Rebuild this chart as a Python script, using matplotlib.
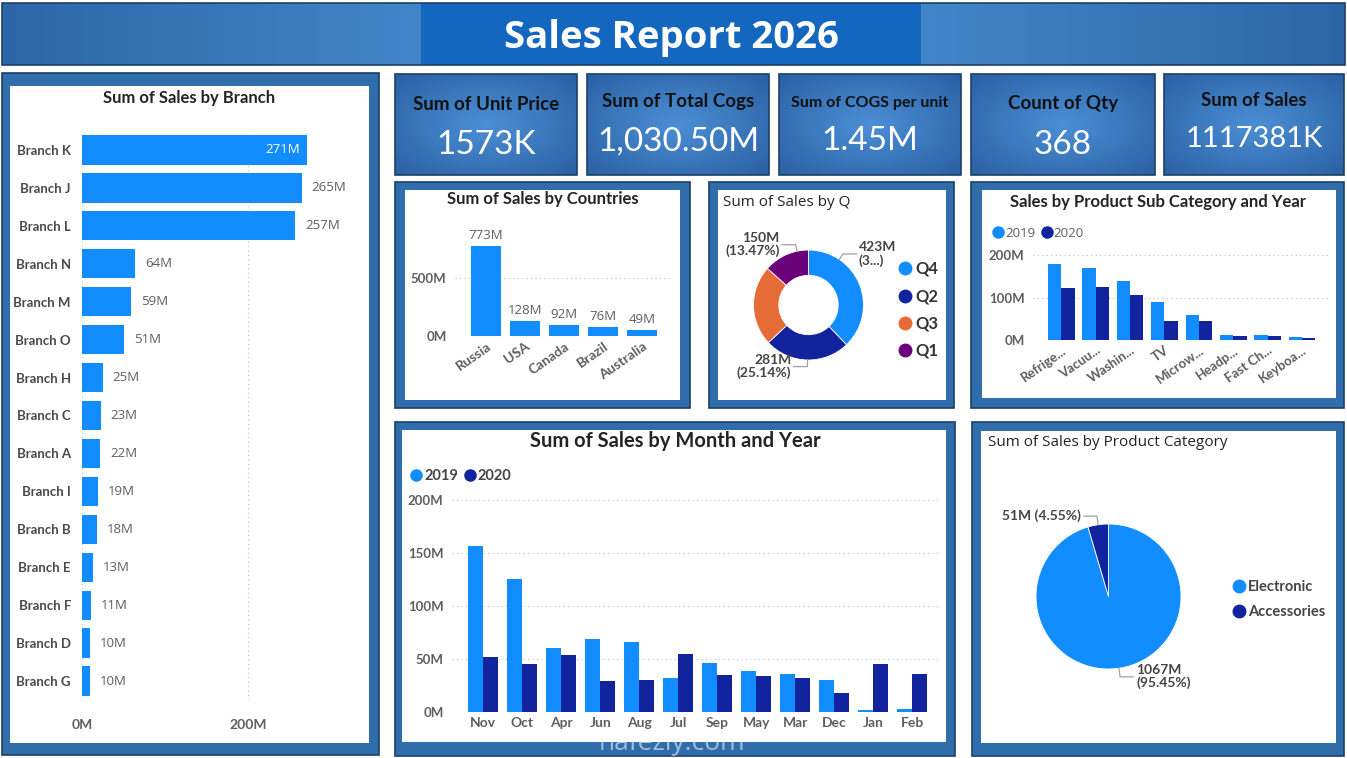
import numpy as np
import matplotlib.pyplot as plt
import matplotlib.colors as mcolors
from matplotlib.patches import Rectangle
from matplotlib.lines import Line2D

plt.rcParams['font.family'] = ['Lato', 'DejaVu Sans']

W, H = 1347, 758

# ---- data ----
branches = ["Branch K", "Branch J", "Branch L", "Branch N", "Branch M", "Branch O", "Branch H",
            "Branch C", "Branch A", "Branch I", "Branch B", "Branch E", "Branch F", "Branch D", "Branch G"]
branch_sales = [271, 265, 257, 64, 59, 51, 25, 23, 22, 19, 18, 13, 11, 10, 10]

countries = ["Russia", "USA", "Canada", "Brazil", "Australia"]
country_sales = [773, 128, 92, 76, 49]

quarters = ["Q4", "Q2", "Q3", "Q1"]
quarter_sales = [423, 281, 263, 150]
quarter_labels = ["423M\n(3...)", "281M\n(25.14%)", None, "150M\n(13.47%)"]

subcats = ["Refrige...", "Vacuu...", "Washin...", "TV", "Microw...", "Headp...", "Fast Ch...", "Keyboa..."]
sub_2019 = [179, 169, 140, 89, 59, 12.5, 12.5, 6]
sub_2020 = [122, 124, 107, 45, 45, 9, 8.5, 4.5]

months = ["Nov", "Oct", "Apr", "Jun", "Aug", "Jul", "Sep", "May", "Mar", "Dec", "Jan", "Feb"]
month_2019 = [156, 125, 60, 69, 66, 32, 46, 38, 35.5, 30, 1.6, 2.2]
month_2020 = [52, 45, 53.5, 28.5, 30, 54.5, 35, 33.5, 31.5, 17.5, 45, 35.5]

categories = ["Electronic", "Accessories"]
category_sales = [1067, 51]
category_labels = ["1067M\n(95.45%)", "51M (4.55%)"]

kpi_titles = ["Sum of Unit Price", "Sum of Total Cogs", "Sum of COGS per unit", "Count of Qty", "Sum of Sales"]
kpi_values = ["1573K", "1,030.50M", "1.45M", "368", "1117381K"]

# ---- colours ----
BLUE = '#118DFF'
NAVY = '#12239E'
ORANGE = '#E66C37'
PURPLE = '#6B007B'
FRAME = '#2F6DAB'
EDGE = '#1D3F66'
GRAY = '#605E5C'
DARK = '#252423'
REG = 'Open Sans'

# where Power BI put the donut's leader lines (degrees)
donut_label_angles = [56, -91, None, 102]

fig = plt.figure(figsize=(W / 100, H / 100), dpi=100)
fig.patch.set_facecolor('white')
bg = fig.add_axes([0, 0, 1, 1])
bg.axis('off')


def axrect(x0, y0, x1, y1):
    return [x0 / W, 1 - y1 / H, (x1 - x0) / W, (y1 - y0) / H]


def hgrad(x0, y0, x1, y1, c_left, c_right, z=1):
    a = np.array(mcolors.to_rgb(c_left))
    b = np.array(mcolors.to_rgb(c_right))
    t = np.linspace(0, 1, 200)[None, :, None]
    img = a * (1 - t) + b * t
    bg.imshow(img, extent=(x0, x1, y1, y0), aspect='auto', zorder=z)


def rgrad(x0, y0, x1, y1, c_mid, c_edge, z=1):
    a = np.array(mcolors.to_rgb(c_mid))
    b = np.array(mcolors.to_rgb(c_edge))
    X, Y = np.meshgrid(np.linspace(-1, 1, 120), np.linspace(-1, 1, 80))
    d = np.clip(np.sqrt(X ** 2 + Y ** 2) / np.sqrt(2), 0, 1)[:, :, None]
    img = a * (1 - d) + b * d
    bg.imshow(img, extent=(x0, x1, y1, y0), aspect='auto', zorder=z)
    bg.add_patch(Rectangle((x0, y0), x1 - x0, y1 - y0, fc='none', ec=EDGE, lw=1.2, zorder=z + 1))


def panel(outer, inner):
    x0, y0, x1, y1 = outer
    bg.add_patch(Rectangle((x0, y0), x1 - x0, y1 - y0, fc=FRAME, ec=EDGE, lw=1.2, zorder=1))
    x0, y0, x1, y1 = inner
    bg.add_patch(Rectangle((x0, y0), x1 - x0, y1 - y0, fc='white', ec='none', zorder=2))


def style(ax, grid_axis):
    for s in ax.spines.values():
        s.set_visible(False)
    ax.tick_params(length=0, colors=GRAY, labelsize=9.5, pad=6)
    ax.grid(axis=grid_axis, ls=(0, (1, 3)), color='#BDBDBD', lw=0.8)
    ax.set_axisbelow(True)
    ax.patch.set_alpha(0)


def slice_labels(ax, wedges, labels, size, angles=None, knee=1.12, run=0.18):
    for k, (w, lab) in enumerate(zip(wedges, labels)):
        if lab is None:
            continue
        deg = (w.theta1 + w.theta2) / 2
        if angles is not None and angles[k] is not None:
            deg = angles[k]
        ang = np.deg2rad(deg)
        ex, ey = np.cos(ang), np.sin(ang)
        side = 1 if ex > 0 else -1
        kx, ky = ex * knee, ey * knee
        hx = kx + side * run
        ax.plot([ex, kx, hx], [ey, ky, ky], color='#A0A0A0', lw=0.9, clip_on=False)
        ax.text(hx + side * 0.04, ky, lab, ha='left' if side > 0 else 'right', va='center',
                fontsize=size, color='#444444', fontweight='bold', clip_on=False, linespacing=1.05)


# ---- header ----
hgrad(2, 3, 422, 65, '#2D66A6', '#4286C9')
hgrad(921, 3, 1345, 65, '#4286C9', '#2D66A6')
bg.add_patch(Rectangle((421, 3), 500, 62, fc='#1467BF', ec='none', zorder=2))
bg.add_patch(Rectangle((2, 3), 1343, 62, fc='none', ec=EDGE, lw=1.2, zorder=3))
bg.text(671, 38, "Sales Report 2026", ha='center', va='center', color='white',
        fontsize=27.5, fontweight='bold', family=[REG, 'DejaVu Sans'], zorder=4)

# ---- KPI cards ----
card_x = [(395, 577), (587, 769), (779, 961), (971, 1155), (1164, 1344)]
title_size = [13.5, 13.5, 11.5, 13.5, 13.5]
value_size = [24, 24, 24, 24, 21]
title_y = [104, 102, 103, 104, 100]
value_y = [145, 142, 141, 145, 139]
for (x0, x1), t, v, ts, vs, ty, vy in zip(card_x, kpi_titles, kpi_values, title_size,
                                          value_size, title_y, value_y):
    rgrad(x0, 74, x1, 175, '#4C8FD6', '#2A60A2')
    bg.text((x0 + x1) / 2, ty, t, ha='center', va='center', fontsize=ts,
            fontweight='bold', color='#111111', zorder=5)
    bg.text((x0 + x1) / 2, vy, v, ha='center', va='center', fontsize=vs,
            color='white', zorder=5)

# ---- panels ----
panel((2, 73, 379, 755), (10, 86, 369, 743))
panel((395, 182, 690, 408), (405, 190, 680, 400))
panel((709, 182, 954, 408), (718, 190, 946, 400))
panel((971, 182, 1344, 408), (982, 190, 1336, 398))
panel((395, 422, 955, 756), (402, 430, 946, 742))
panel((972, 422, 1344, 756), (981, 431, 1336, 743))

bg.set_xlim(0, W)
bg.set_ylim(H, 0)

# ---- Sum of Sales by Branch ----
ax = fig.add_axes(axrect(82, 131, 360, 700))
style(ax, 'x')
yb = np.arange(len(branches))
ax.barh(yb, branch_sales, height=0.77, color=BLUE)
ax.set_xlim(0, 335)
ax.set_ylim(len(branches) - 0.5, -0.5)
ax.set_yticks(yb)
ax.set_yticklabels(branches, fontweight='bold', color='#4A4A4A')
ax.set_xticks([0, 200])
ax.set_xticklabels(['0M', '200M'], fontweight='bold', fontsize=10)
ax.tick_params(axis='x', pad=14)
ax.tick_params(axis='y', pad=8)
for i, v in enumerate(branch_sales):
    if v == max(branch_sales):
        ax.annotate(f"{v}M", (v, i), xytext=(-5, 0), textcoords='offset points', ha='right',
                    va='center', color='white', fontsize=9.5, family=[REG, 'DejaVu Sans'])
    else:
        ax.annotate(f"{v}M", (v, i), xytext=(7, 0), textcoords='offset points', ha='left',
                    va='center', color=GRAY, fontsize=9.5, family=[REG, 'DejaVu Sans'])
bg.text(189, 98, "Sum of Sales by Branch", ha='center', va='center', fontsize=12,
        fontweight='bold', color=DARK, zorder=5)

# ---- Sum of Sales by Countries ----
ax = fig.add_axes(axrect(455, 231.6, 672, 336))
style(ax, 'y')
xc = np.arange(len(countries))
ax.bar(xc, country_sales, width=0.77, color=BLUE)
ax.set_xlim(-0.8, 4.76)
ax.set_ylim(0, 900)
ax.set_yticks([0, 500])
ax.set_yticklabels(['0M', '500M'], fontweight='bold')
ax.set_xticks(xc)
ax.set_xticklabels(countries, rotation=35, ha='right', rotation_mode='anchor',
                   fontweight='bold', fontsize=10)
ax.tick_params(axis='x', pad=3)
for i, v in enumerate(country_sales):
    ax.annotate(f"{v}M", (i, v), xytext=(0, 3), textcoords='offset points', ha='center',
                va='bottom', color=GRAY, fontsize=9.5, family=[REG, 'DejaVu Sans'])
bg.text(543, 199, "Sum of Sales by Countries", ha='center', va='center', fontsize=12,
        fontweight='bold', color=DARK, zorder=5)

# ---- Sum of Sales by Q (donut) ----
ax = fig.add_axes(axrect(753.5, 250, 863.5, 360))
wedges, _ = ax.pie(quarter_sales, colors=[BLUE, NAVY, ORANGE, PURPLE], startangle=90,
                   counterclock=False, radius=1, wedgeprops=dict(width=0.46, edgecolor='white', linewidth=0.6))
ax.set_xlim(-1, 1)
ax.set_ylim(-1, 1)
slice_labels(ax, wedges, quarter_labels, 10, angles=donut_label_angles, knee=1.12, run=0.25)
handles = [Line2D([], [], marker='o', ls='', ms=9, color=c) for c in [BLUE, NAVY, ORANGE, PURPLE]]
leg = ax.legend(handles, quarters, loc='upper left', bbox_to_anchor=(882 / W, 1 - 246 / H),
                bbox_transform=fig.transFigure, frameon=False, handletextpad=0.1,
                handlelength=1.0, labelspacing=0.68, prop=dict(size=12, weight='bold'))
for t in leg.get_texts():
    t.set_color('#333333')
bg.text(723, 203, "Sum of Sales by Q", ha='left', va='center', fontsize=11,
        color=DARK, family=[REG, 'DejaVu Sans'], zorder=5)

# ---- Sales by Product Sub Category and Year ----
ax = fig.add_axes(axrect(1033, 250, 1330, 340))
style(ax, 'y')
xs = np.arange(len(subcats))
bw = 0.3875
ax.bar(xs - bw / 2, sub_2019, width=bw, color=BLUE)
ax.bar(xs + bw / 2, sub_2020, width=bw, color=NAVY)
ax.set_xlim(-0.82, 7.81)
ax.set_ylim(0, 212)
ax.set_yticks([0, 100, 200])
ax.set_yticklabels(['0M', '100M', '200M'], fontweight='bold')
ax.set_xticks(xs)
ax.set_xticklabels(subcats, rotation=35, ha='right', rotation_mode='anchor', fontweight='bold')
ax.tick_params(axis='x', pad=3)
handles = [Line2D([], [], marker='o', ls='', ms=8, color=c) for c in [BLUE, NAVY]]
leg = ax.legend(handles, ['2019', '2020'], loc='upper left', bbox_to_anchor=(980 / W, 1 - 215 / H),
                bbox_transform=fig.transFigure, frameon=False, ncol=2, handletextpad=0.05,
                handlelength=1.0, columnspacing=0.3, prop=dict(size=9.5, family=[REG, 'DejaVu Sans']))
for t in leg.get_texts():
    t.set_color(GRAY)
bg.text(1158, 202, "Sales by Product Sub Category and Year", ha='center', va='center',
        fontsize=12, fontweight='bold', color=DARK, zorder=5)

# ---- Sum of Sales by Month and Year ----
ax = fig.add_axes(axrect(452, 489, 938, 711.7))
style(ax, 'y')
xm = np.arange(len(months))
ax.bar(xm - bw / 2, month_2019, width=bw, color=BLUE)
ax.bar(xm + bw / 2, month_2020, width=bw, color=NAVY)
ax.set_xlim(-0.8, 11.66)
ax.set_ylim(0, 210)
ax.set_yticks([0, 50, 100, 150, 200])
ax.set_yticklabels(['0M', '50M', '100M', '150M', '200M'], fontweight='bold')
ax.set_xticks(xm)
ax.set_xticklabels(months, fontweight='bold', fontsize=10)
ax.tick_params(axis='x', pad=4)
handles = [Line2D([], [], marker='o', ls='', ms=8, color=c) for c in [BLUE, NAVY]]
leg = ax.legend(handles, ['2019', '2020'], loc='upper left', bbox_to_anchor=(396 / W, 1 - 456 / H),
                bbox_transform=fig.transFigure, frameon=False, ncol=2, handletextpad=0.05,
                handlelength=1.0, columnspacing=0.3, prop=dict(size=10.5, weight='bold'))
for t in leg.get_texts():
    t.set_color('#444444')
bg.text(675, 441, "Sum of Sales by Month and Year", ha='center', va='center', fontsize=14.5,
        fontweight='bold', color=DARK, zorder=5)

# ---- Sum of Sales by Product Category (pie) ----
ax = fig.add_axes(axrect(1036, 524, 1181, 669))
wedges, _ = ax.pie(category_sales, colors=[BLUE, NAVY], startangle=90, counterclock=False,
                   radius=1, wedgeprops=dict(edgecolor='white', linewidth=0.6))
ax.set_xlim(-1, 1)
ax.set_ylim(-1, 1)
slice_labels(ax, wedges, category_labels, 10)
handles = [Line2D([], [], marker='o', ls='', ms=9, color=c) for c in [BLUE, NAVY]]
leg = ax.legend(handles, categories, loc='upper left', bbox_to_anchor=(1219 / W, 1 - 567 / H),
                bbox_transform=fig.transFigure, frameon=False, handletextpad=0.1,
                handlelength=1.0, labelspacing=0.75, prop=dict(size=10.5, weight='bold'))
for t in leg.get_texts():
    t.set_color('#444444')
bg.text(988, 443, "Sum of Sales by Product Category", ha='left', va='center', fontsize=11,
        color=DARK, family=[REG, 'DejaVu Sans'], zorder=5)

# watermark
bg.text(672, 743, "nafezly.com", ha='center', va='center', fontsize=19, color='white',
        alpha=0.55, family=[REG, 'DejaVu Sans'], zorder=10)

fig.savefig('out.png', dpi=100)
